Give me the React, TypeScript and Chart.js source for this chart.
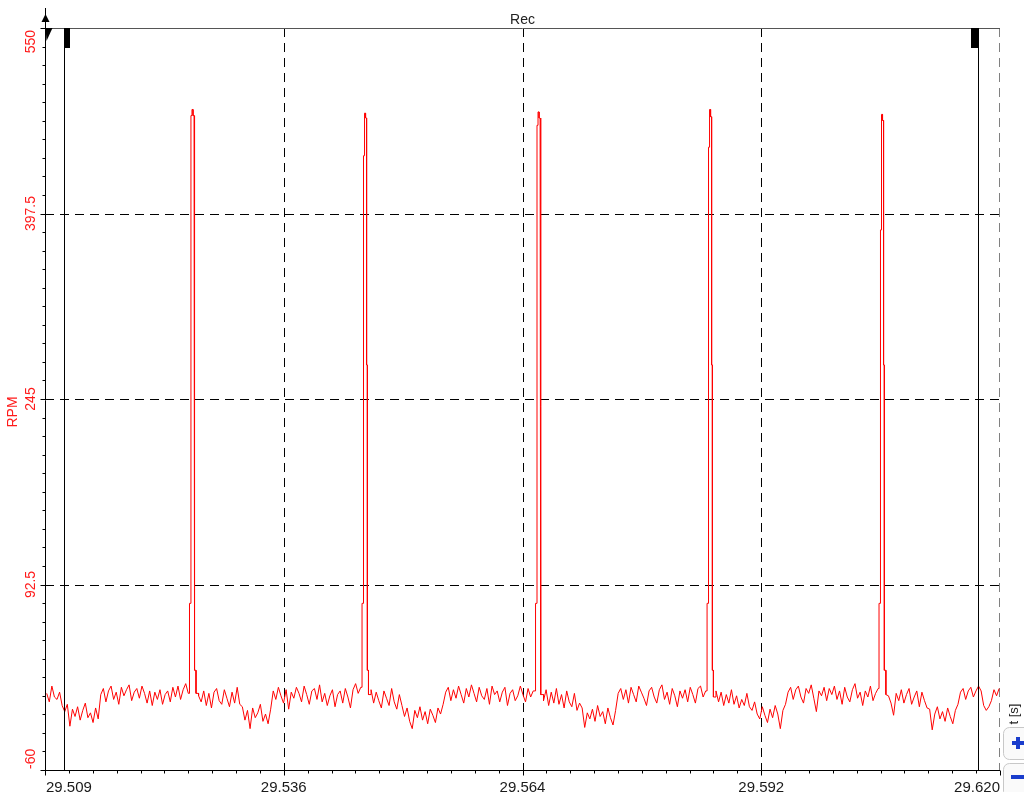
import React, { useEffect, useRef } from 'react';
import { Chart, registerables } from 'chart.js';

Chart.register(...registerables);

// ---- axis ranges & ticks ----
const X_MIN = 29.5085;
const X_MAX = 29.6198;
const Y_MIN = -60;
const Y_MAX = 550;
const xTickValues = [29.5085, 29.536325, 29.56415, 29.591975, 29.6198];
const xTickLabels = ['29.509', '29.536', '29.564', '29.592', '29.620'];
const yTickValues = [-60, 92.5, 245, 397.5, 550];
const yTickLabels = ['-60', '92.5', '245', '397.5', '550'];
const cursorTimes = [29.5107, 29.6172];

// ---- baseline samples (RPM), one every sampleInterval seconds ----
const sampleStart = 29.5087;
const sampleInterval = 0.0003;
const baselineRpm = [
  3, -4, 9, 0, -2, 4, -7,
  -12, -6, -24, -10, -16, -8, -19, -11, -5, -17, -13, -21, -9, -18,
  2, 7, -4, 5, 9, -2, 4, -6, 8, 1, 6, 10, -3, 4, 7, -1, 9, 3, -5, 5,
  -7, 4, -2, 6, -6, 2, 5, -4, 8, 0, 9, -2, 6, 11, 3,
  4, 2, 3, 1,
  -4, 5, -7, 3, -9, 4, 7, -3, -6, 6, -1, -8, 4, -5, 8, -6,
  -8, -19, -11, -26, -9, -17, -13, -6, -20, -14, -22, -10,
  5, -2, 8, 1, -5, 6, -10, 4, -1, 8, 3, -4, 9, 2, -6, 5, 7, -2, 10, -4,
  3, -7, 1, 6, -8, 2, 5, -5, 7, 0, -9, 6, 11, 3, 8, 2,
  1, 2,
  6, -5, 4, -3, -9, 5, -1, -7, 7, -4, -10, 2,
  -7, -16, -9, -20, -26, -11, -17, -8, -19, -12, -22, -10, -15, -21, -9, -14, -6,
  4, 8, -3, 6, -1, 9, 2, -5, 7, 0, 10, 3, -4, 8, 1, -2, 7, -6, 9, 2,
  5, -4, 4, 8, -7, 3, 6, -3, 1, 9, 2, -4, 7, 0, 5,
  3, 1, 2,
  -3, 6, -7, 4, -5, 7, -6, 2, -9, 5, -4, -8, 3, -11, -5,
  -9, -25, -13, -18, -10, -20, -7, -16, -12, -22, -9, -17, -23, -11,
  3, 7, -2, 6, -5, 8, 2, -4, 9, 4, -1, -7, 5, 8, 0, -5, 6, 10, -2, 4,
  -6, 7, 1, -8, 5, -1, 6, -4, 8, 2, -5, 7, 9, 0, 5,
  2, 1, 0,
  5, -4, 4, -7, 2, -5, 6, -6, 1, -9, -2, -7, 3, -8, -11, -4, -14,
  -18, -8, -15, -21, -10, -17, -7, -14, -26, -11, -6,
  4, 8, -2, 6, 9, 0, -5, 7, 3, 10, -1, -12, 5, 1, 8, -3, 7, 2, 9, -2,
  5, -6, 8, 0, -4, 6, 11, -1, 4, -7, 5, 0, 9, -3, 3, 7,
  1, 0, 2, 1,
  -5, -15, 3, -3, 6, -5, 2, 7, -6, 0, 5, -8, 4, -3, -9,
  -10, -27, -14, -8, -18, -12, -20, -9, -16, -22, -11, -6,
  4, 7, -2, 5, 8, 0, 5, 9, 5, -7, -11, -8, -3, 6, 1, 7,
];

// ---- pulses ----
const spikeStarts = [29.52534, 29.54545, 29.56567, 29.58566, 29.6057];
const spikeOffsetsMs = [0, 0.17, 0.29, 0.41, 0.53, 0.62];
const spike1Rpm = [77, 478, 483, 478, 273, 22];
const spike2Rpm = [77, 445, 480, 476, 273, 22];
const spike3Rpm = [77, 470, 481, 476, 273, 22];
const spike4Rpm = [77, 452, 483, 477, 273, 22];
const spike5Rpm = [77, 384, 479, 474, 273, 22];
const spikeRpm = [spike1Rpm, spike2Rpm, spike3Rpm, spike4Rpm, spike5Rpm];

function buildPoints() {
  const windows = spikeStarts.map((s) => [s, s + spikeOffsetsMs[spikeOffsetsMs.length - 1] / 1000]);
  const pts: { x: number; y: number; step: boolean }[] = [];
  baselineRpm.forEach((v, i) => {
    const t = sampleStart + i * sampleInterval;
    if (windows.some(([a, b]) => t >= a && t <= b)) return;
    const afterSpike = windows.some(([, b]) => t > b && t - b < sampleInterval * 1.5);
    pts.push({ x: t, y: v, step: afterSpike });
  });
  spikeStarts.forEach((s, k) => {
    spikeOffsetsMs.forEach((o, j) => pts.push({ x: s + o / 1000, y: spikeRpm[k][j], step: true }));
  });
  pts.sort((a, b) => a.x - b.x);
  // square corners for the pulse edges (sample-and-hold look)
  const out: { x: number; y: number }[] = [];
  pts.forEach((p, i) => {
    if (p.step && i > 0) out.push({ x: p.x, y: pts[i - 1].y });
    out.push({ x: p.x, y: p.y });
  });
  return out;
}

const FONT = '"Liberation Sans", Arial, sans-serif';

function line(ctx: CanvasRenderingContext2D, x1: number, y1: number, x2: number, y2: number) {
  ctx.beginPath();
  ctx.moveTo(x1, y1);
  ctx.lineTo(x2, y2);
  ctx.stroke();
}

const overlay = {
  id: 'overlay',
  beforeDatasetsDraw(chart: any) {
    const { ctx, chartArea: a, scales } = chart;
    const xs = scales.x;
    const ys = scales.y;
    ctx.save();
    ctx.lineWidth = 1;
    ctx.strokeStyle = '#000';
    ctx.setLineDash([9, 6]);
    yTickValues.forEach((v) => {
      if (v === Y_MIN || v === Y_MAX) return;
      const py = Math.round(ys.getPixelForValue(v)) + 0.5;
      line(ctx, a.left, py, a.right, py);
    });
    xTickValues.slice(1, -1).forEach((v) => {
      const px = Math.round(xs.getPixelForValue(v)) + 0.5;
      line(ctx, px, a.top, px, a.bottom);
    });
    ctx.strokeStyle = '#808080';
    const rx = Math.round(a.right) - 0.5;
    line(ctx, rx, a.top, rx, a.bottom);
    ctx.restore();
  },
  afterDatasetsDraw(chart: any) {
    const { ctx, chartArea: a, scales } = chart;
    const xs = scales.x;
    const ys = scales.y;
    ctx.save();
    ctx.setLineDash([]);
    ctx.lineWidth = 1;

    // top border
    ctx.strokeStyle = '#555';
    line(ctx, a.left, Math.round(a.top) + 0.5, a.right, Math.round(a.top) + 0.5);

    // cursors
    ctx.strokeStyle = '#000';
    ctx.fillStyle = '#000';
    cursorTimes.forEach((t, k) => {
      const px = Math.round(xs.getPixelForValue(t)) + 0.5;
      line(ctx, px, a.top, px, a.bottom);
      if (k === 0) ctx.fillRect(px - 0.5, a.top, 6, 20);
      else ctx.fillRect(px - 7.5, a.top, 8, 20);
    });

    // left axis
    const lx = Math.round(a.left) + 0.5;
    line(ctx, lx, a.top - 2, lx, a.bottom + 5);
    // bottom axis
    const by = Math.round(a.bottom) + 0.5;
    line(ctx, a.left - 3, by, a.right, by);

    // y ticks
    const yStep = (Y_MAX - Y_MIN) / 40;
    for (let k = 0; k <= 40; k++) {
      const v = Y_MIN + k * yStep;
      const py = Math.round(ys.getPixelForValue(v)) + 0.5;
      if (k % 10 === 0) line(ctx, lx - 5, py, lx + 5, py);
      else line(ctx, lx - 3, py, lx, py);
    }
    // x ticks
    const xStep = (X_MAX - X_MIN) / 40;
    for (let k = 0; k <= 40; k++) {
      const v = X_MIN + k * xStep;
      const px = Math.round(xs.getPixelForValue(v)) + 0.5;
      line(ctx, px, by, px, by + (k % 10 === 0 ? 5 : 3));
    }

    // y labels (rotated)
    ctx.fillStyle = '#ff1a1a';
    ctx.font = `14px ${FONT}`;
    yTickValues.forEach((v, k) => {
      const py = ys.getPixelForValue(v);
      ctx.save();
      ctx.translate(31, py);
      ctx.rotate(-Math.PI / 2);
      ctx.textBaseline = 'middle';
      if (k === 0) ctx.textAlign = 'left';
      else if (k === yTickValues.length - 1) ctx.textAlign = 'right';
      else ctx.textAlign = 'center';
      ctx.fillText(yTickLabels[k], k === 0 ? 1 : k === yTickValues.length - 1 ? -2 : 0, 0);
      ctx.restore();
    });
    // y title
    ctx.save();
    ctx.translate(13, 412);
    ctx.rotate(-Math.PI / 2);
    ctx.textAlign = 'center';
    ctx.textBaseline = 'middle';
    ctx.fillText('RPM', 0, 0);
    ctx.restore();

    // x labels
    ctx.fillStyle = '#1a1a1a';
    ctx.font = `15px ${FONT}`;
    ctx.textBaseline = 'alphabetic';
    xTickValues.forEach((v, k) => {
      const px = xs.getPixelForValue(v);
      if (k === 0) ctx.textAlign = 'left';
      else if (k === xTickValues.length - 1) ctx.textAlign = 'right';
      else ctx.textAlign = 'center';
      ctx.fillText(xTickLabels[k], k === 0 ? px + 1 : px, 792);
    });

    // title
    ctx.fillStyle = '#222';
    ctx.font = `14px ${FONT}`;
    ctx.textAlign = 'center';
    ctx.textBaseline = 'middle';
    ctx.fillText('Rec', xs.getPixelForValue((X_MIN + X_MAX) / 2), 20);

    // x title rotated
    ctx.save();
    ctx.translate(1014, 714);
    ctx.rotate(-Math.PI / 2);
    ctx.font = `13px ${FONT}`;
    ctx.fillStyle = '#222';
    ctx.fillText('t [s]', 0, 0);
    ctx.restore();

    // zoom buttons
    const btn = (y0: number, h: number) => {
      ctx.beginPath();
      ctx.roundRect(1003.5, y0 + 0.5, 30, h, 6);
      ctx.fillStyle = '#fafafa';
      ctx.fill();
      ctx.strokeStyle = '#c8c8c8';
      ctx.stroke();
    };
    btn(727, 32);
    btn(763, 34);
    ctx.fillStyle = '#1a3dcc';
    ctx.fillRect(1012, 741, 12, 4);
    ctx.fillRect(1016, 737, 4, 12);
    ctx.fillRect(1011, 775, 13, 4);

    // top-left markers
    ctx.fillStyle = '#000';
    ctx.strokeStyle = '#000';
    line(ctx, lx, 8, lx, 27);
    ctx.beginPath();
    ctx.moveTo(lx - 4, 22);
    ctx.lineTo(lx + 4, 22);
    ctx.lineTo(lx, 14);
    ctx.closePath();
    ctx.fill();
    ctx.beginPath();
    ctx.moveTo(lx, a.top);
    ctx.lineTo(lx + 7, a.top);
    ctx.lineTo(lx + 1, a.top + 13);
    ctx.closePath();
    ctx.fill();

    ctx.restore();
  },
};

export default function App() {
  const ref = useRef<HTMLCanvasElement | null>(null);
  useEffect(() => {
    if (!ref.current) return;
    const chart = new Chart(ref.current, {
      type: 'line',
      data: {
        datasets: [
          {
            data: buildPoints(),
            borderColor: '#ff0000',
            borderWidth: 1,
            pointRadius: 0,
            tension: 0,
            fill: false,
          },
        ],
      },
      options: {
        animation: false,
        responsive: false,
        devicePixelRatio: 1,
        parsing: false,
        layout: { padding: { left: 45, right: 24, top: 28, bottom: 22 } },
        plugins: { legend: { display: false }, title: { display: false }, tooltip: { enabled: false } },
        events: [],
        scales: {
          x: {
            type: 'linear',
            min: X_MIN,
            max: X_MAX,
            ticks: { display: false },
            grid: { display: false, drawTicks: false },
            border: { display: false },
            afterFit: (s: any) => { s.height = 0; },
          },
          y: {
            type: 'linear',
            min: Y_MIN,
            max: Y_MAX,
            ticks: { display: false },
            grid: { display: false, drawTicks: false },
            border: { display: false },
            afterFit: (s: any) => { s.width = 0; },
          },
        },
      },
      plugins: [overlay],
    } as any);
    return () => chart.destroy();
  }, []);
  return (
    <div style={{ position: 'fixed', left: 0, top: 0, width: 1024, height: 792, background: '#fff' }}>
      <canvas ref={ref} width={1024} height={792} style={{ display: 'block' }} />
    </div>
  );
}
